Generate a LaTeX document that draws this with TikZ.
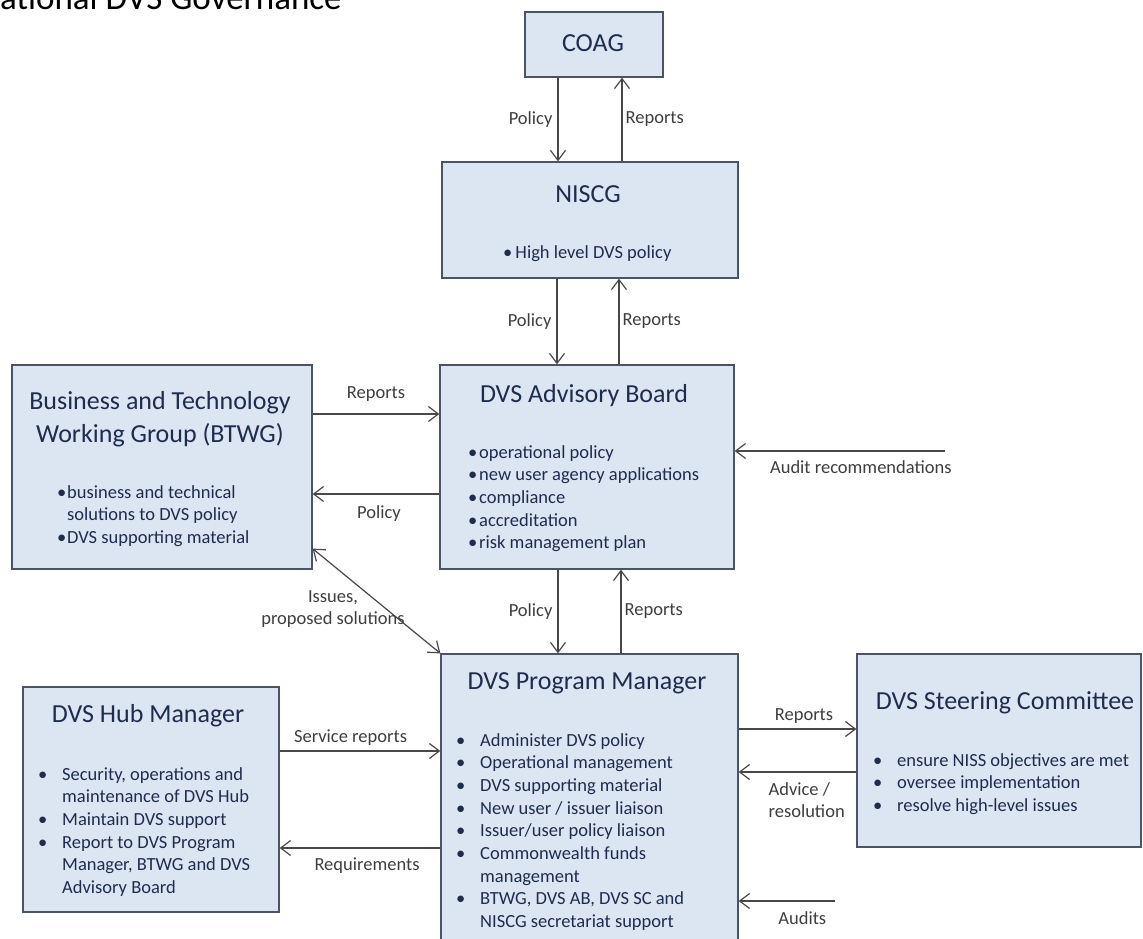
\documentclass[tikz,border=0pt]{standalone}
\usepackage{fontspec}
\setmainfont{Carlito}
\usepackage{array}
\usetikzlibrary{arrows.meta}

\definecolor{boxfill}{RGB}{220,230,242}
\definecolor{boxline}{RGB}{74,84,100}
\definecolor{boxtext}{RGB}{30,44,78}
\definecolor{labeltext}{RGB}{62,62,62}
\definecolor{linkline}{RGB}{72,72,72}

\newcommand{\headfont}{\fontsize{26}{33}\selectfont}
\newcommand{\itemfont}{\fontsize{18.5}{22.7}\selectfont}
\newcommand{\labelfont}{\fontsize{18.5}{22}\selectfont}
% bullet list: width of the bullet column, then the rows
\newcommand{\itemlist}[2]{\begin{tabular}[t]{@{}p{#1}@{}l@{}}#2\end{tabular}}

\begin{document}
\begin{tikzpicture}[x=1pt, y=-1pt,
                    every node/.style={inner sep=0pt},
                    box/.style={draw=boxline, fill=boxfill, line width=1.2pt, rectangle},
                    boxtitle/.style={text=boxtext, font=\headfont, anchor=base},
                    items/.style={text=boxtext, font=\itemfont, anchor=base west},
                    lbl/.style={text=labeltext, font=\labelfont},
                    link/.style={draw=linkline, line width=1.2pt},
                    >={Straight Barb[length=10pt,width=15pt]}]

\useasboundingbox (0,0) rectangle (1143,939);
\clip (0,0) rectangle (1143,939);

\node[text=black, font=\fontsize{35}{40}\selectfont, anchor=base west] (heading) at (0,10) {ational DVS Governance};

% boxes
\node[box, minimum width=138pt, minimum height=65pt]  (coag)  at (594,44.5)  {};
\node[box, minimum width=296pt, minimum height=116pt] (niscg) at (590,220)   {};
\node[box, minimum width=294pt, minimum height=204pt] (dab)   at (587,467)   {};
\node[box, minimum width=300pt, minimum height=204pt] (btwg)  at (162,467)   {};
\node[box, minimum width=297pt, minimum height=306pt] (dpm)   at (589.5,807) {};
\node[box, minimum width=256pt, minimum height=225pt] (hub)   at (151,799.5) {};
\node[box, minimum width=284pt, minimum height=193pt] (dsc)   at (999,750.5) {};

% titles
\node[boxtitle] (coagtitle)  at (593,52)  {COAG};
\node[boxtitle] (niscgtitle) at (588,202) {NISCG};
\node[boxtitle] (dabtitle)   at (584,402) {DVS Advisory Board};
\node[boxtitle] (btwgtitle)  at (160,409) {\begin{tabular}[t]{@{}c@{}}Business and Technology\\Working Group (BTWG)\end{tabular}};
\node[boxtitle] (hubtitle)   at (148,722) {DVS Hub Manager};
\node[boxtitle] (dpmtitle)   at (587,689) {DVS Program Manager};
\node[boxtitle] (dsctitle)   at (1005,709) {DVS Steering Committee};

% contents
\node[items] (niscgitems) at (503,258) {\textbullet\,High level DVS policy};
\node[items] (dabitems) at (468,458) {\itemlist{11pt}{%
  \textbullet & operational policy\\
  \textbullet & new user agency applications\\
  \textbullet & compliance\\
  \textbullet & accreditation\\
  \textbullet & risk management plan}};
\node[items] (btwgitems) at (57,498) {\itemlist{10pt}{%
  \textbullet & business and technical\\
              & solutions to DVS policy\\
  \textbullet & DVS supporting material}};
\node[items] (hubitems) at (38,780) {\itemlist{24pt}{%
  \textbullet & Security, operations and\\
              & maintenance of DVS Hub\\
  \textbullet & Maintain DVS support\\
  \textbullet & Report to DVS Program\\
              & Manager, BTWG and DVS\\
              & Advisory Board}};
\node[items] (dpmitems) at (456,746) {\itemlist{24pt}{%
  \textbullet & Administer DVS policy\\
  \textbullet & Operational management\\
  \textbullet & DVS supporting material\\
  \textbullet & New user / issuer liaison\\
  \textbullet & Issuer/user policy liaison\\
  \textbullet & Commonwealth funds\\
              & management\\
  \textbullet & BTWG, DVS AB, DVS SC and\\
              & NISCG secretariat support}};
\node[items] (dscitems) at (873,766) {\itemlist{24pt}{%
  \textbullet & ensure NISS objectives are met\\
  \textbullet & oversee implementation\\
  \textbullet & resolve high-level issues}};

% free ends
\coordinate (auditrec) at (945,451);
\coordinate (audits)   at (835,901);

% connectors
\draw[link,->] ([xshift=-36pt]coag.south) -- ([xshift=-36pt]coag.south |- niscg.north)
   node[lbl, midway, left=5pt] {Policy};
\draw[link,->] ([xshift=28pt]coag.south |- niscg.north) -- ([xshift=28pt]coag.south)
   node[lbl, midway, right=3pt] {Reports};
\draw[link,->] ([xshift=-33pt]niscg.south) -- ([xshift=-33pt]niscg.south |- dab.north)
   node[lbl, midway, left=5pt] {Policy};
\draw[link,->] ([xshift=29pt]niscg.south |- dab.north) -- ([xshift=29pt]niscg.south)
   node[lbl, midway, right=3pt] {Reports};
\draw[link,->] ([xshift=-29pt]dab.south) -- ([xshift=-29pt]dab.south |- dpm.north)
   node[lbl, midway, left=5pt] {Policy};
\draw[link,->] ([xshift=34pt]dab.south |- dpm.north) -- ([xshift=34pt]dab.south)
   node[lbl, midway, right=3pt] {Reports};

\draw[link,->] ([yshift=53pt]btwg.east) -- ([yshift=53pt]btwg.east -| dab.west)
   node[lbl, midway, anchor=base, yshift=16pt] {Reports};
\draw[link,->] ([yshift=-27pt]btwg.east -| dab.west) -- ([yshift=-27pt]btwg.east)
   node[lbl, midway, anchor=base, yshift=-24pt, xshift=3pt] {Policy};
\draw[link,->] (auditrec) -- (auditrec -| dab.east)
   node[lbl, pos=0.4, anchor=base, yshift=-22pt] {Audit recommendations};
\draw[link,<->] ([yshift=21pt]btwg.south east) -- (dpm.north west)
   node[lbl, midway, xshift=-43.5pt, yshift=-8.5pt] {\begin{tabular}{@{}c@{}}Issues,\\proposed solutions\end{tabular}};

\draw[link,->] ([yshift=48.5pt]hub.east) -- ([yshift=48.5pt]hub.east -| dpm.west)
   node[lbl, midway, anchor=base, yshift=9pt, xshift=-9.5pt] {Service reports};
\draw[link,->] ([yshift=-48.5pt]hub.east -| dpm.west) -- ([yshift=-48.5pt]hub.east)
   node[lbl, midway, anchor=base, yshift=-22pt, xshift=7pt] {Requirements};

\draw[link,->] ([yshift=21.5pt]dsc.west -| dpm.east) -- ([yshift=21.5pt]dsc.west)
   node[lbl, midway, anchor=base, yshift=9pt, xshift=6.5pt] {Reports};
\draw[link,->] ([yshift=-21.5pt]dsc.west) -- ([yshift=-21.5pt]dsc.west -| dpm.east)
   node[lbl, midway, anchor=base west, yshift=-23pt, xshift=-29.5pt] {\begin{tabular}[t]{@{}l@{}}Advice /\\resolution\end{tabular}};
\draw[link,->] (audits) -- (audits -| dpm.east)
   node[lbl, midway, anchor=base, yshift=-23pt, xshift=15.5pt] {Audits};

\end{tikzpicture}
\end{document}
